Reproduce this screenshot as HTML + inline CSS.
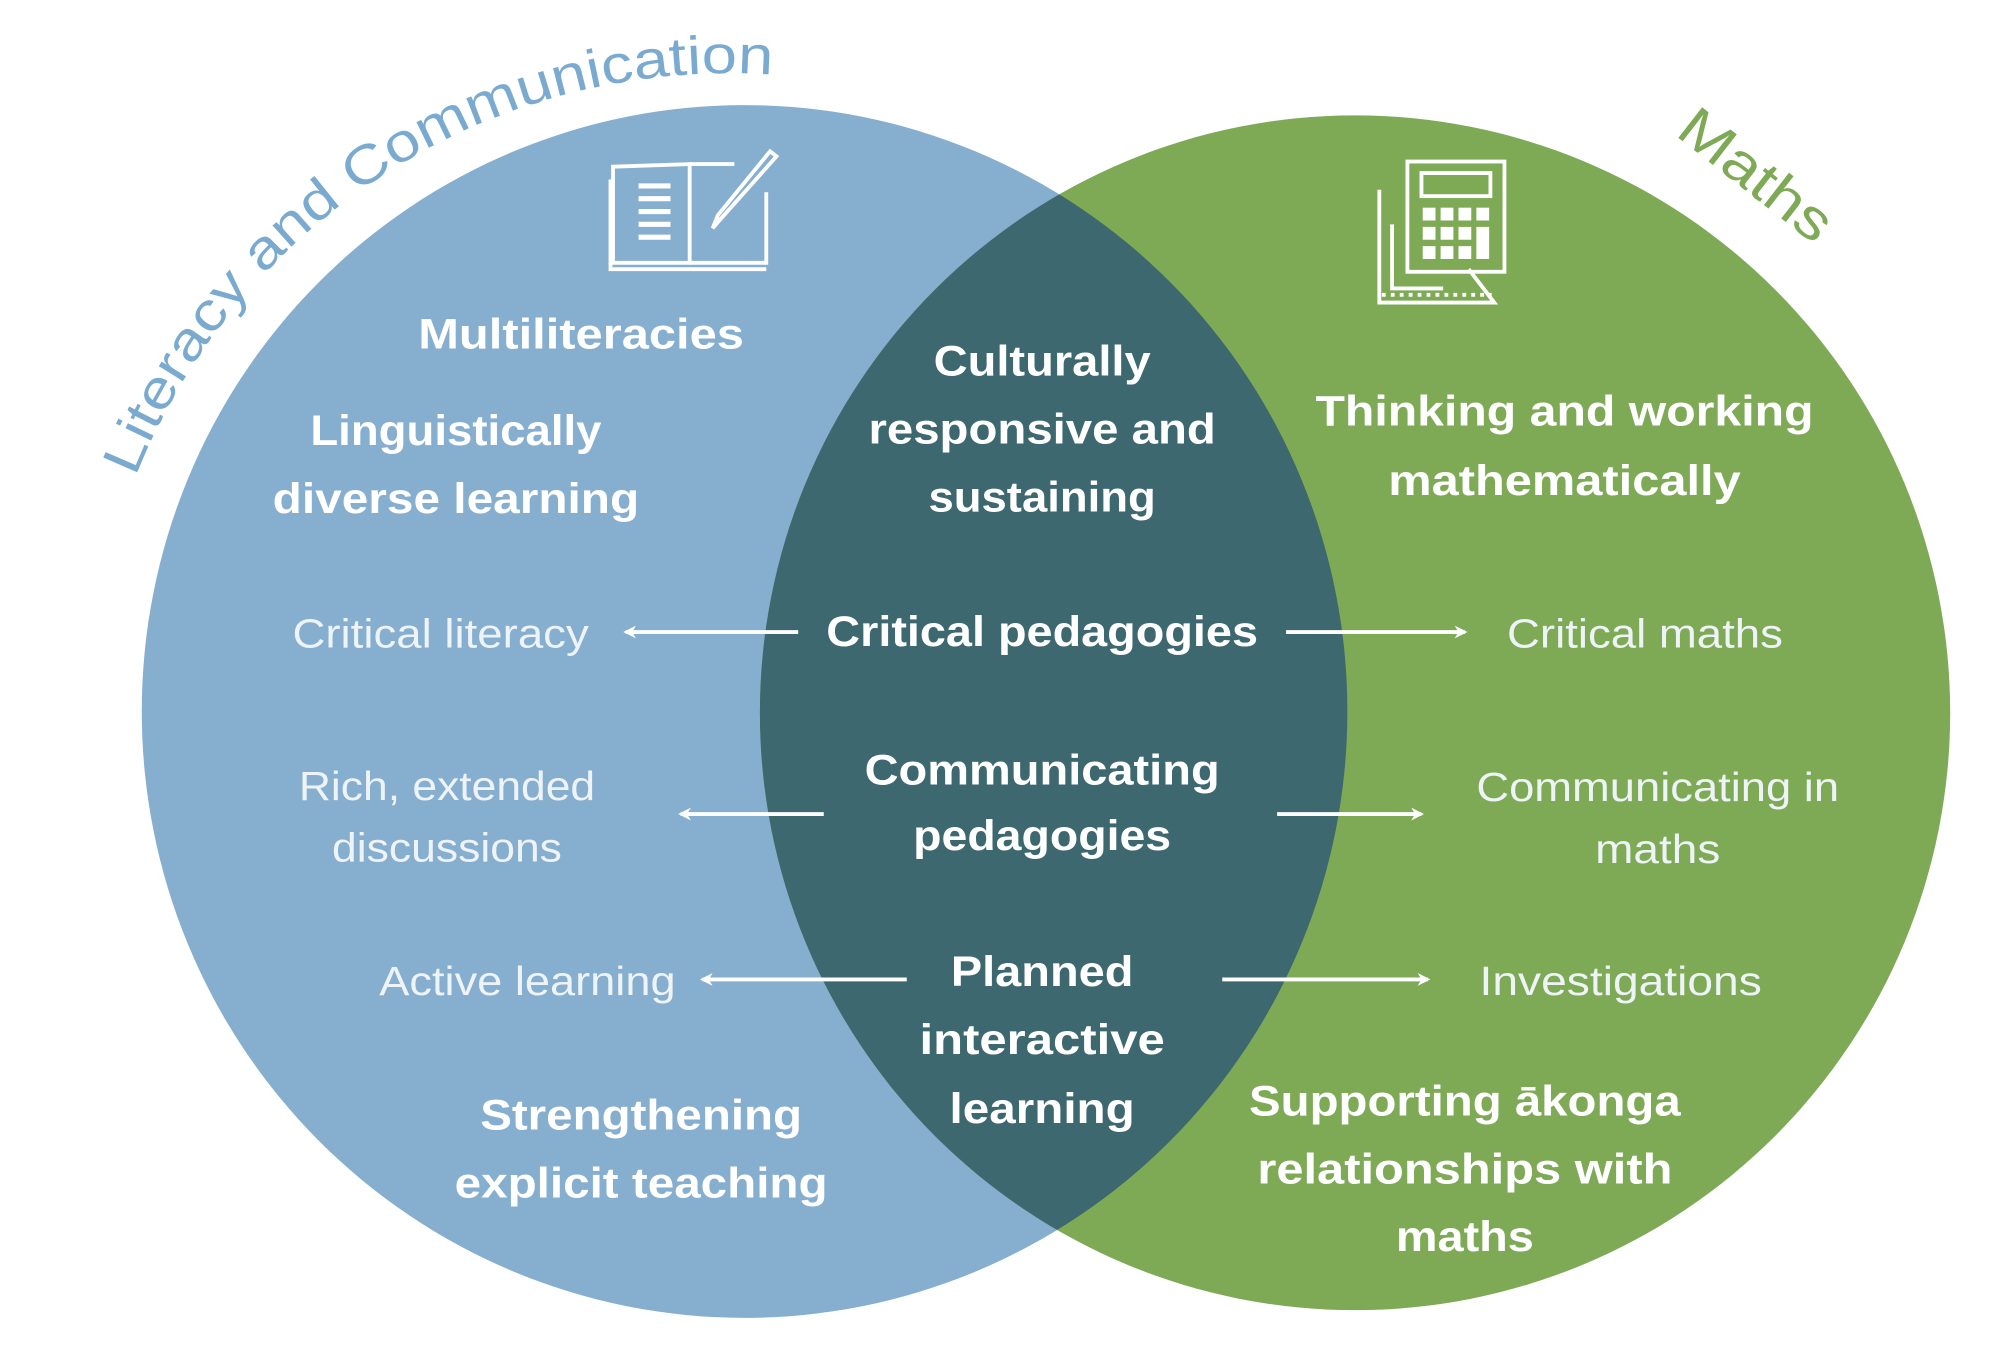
<!DOCTYPE html>
<html><head><meta charset="utf-8"><style>
html,body{margin:0;padding:0;background:#fff;}
svg{display:block;}
.b{font-family:"Liberation Sans",sans-serif;font-weight:bold;font-size:33px;fill:#fff;text-anchor:middle;}
.r{font-family:"Liberation Sans",sans-serif;font-size:32px;fill:#eef3f8;text-anchor:middle;}
</style></head><body>
<svg width="2000" height="1358" viewBox="0 0 1566 1059.3" preserveAspectRatio="none" xmlns="http://www.w3.org/2000/svg">
<defs>
<clipPath id="cb"><ellipse cx="583" cy="555" rx="472" ry="473"/></clipPath>
<path id="arc" d="M 106 372 A 500 500 0 0 1 640 62"/>
<marker id="ah" markerWidth="10" markerHeight="10" refX="8" refY="5" orient="auto" markerUnits="userSpaceOnUse"><path d="M0,0 L10,5 L0,10 L3,5 Z" fill="#fff"/></marker>
</defs>
<ellipse cx="583" cy="555" rx="472" ry="473" fill="#86aecf"/>
<ellipse cx="1061" cy="556" rx="466" ry="466" fill="#7eaa56"/>
<ellipse cx="1061" cy="556" rx="466" ry="466" fill="#3d6870" clip-path="url(#cb)"/>

<text font-family="Liberation Sans,sans-serif" font-size="42" fill="#7aaad0"><textPath href="#arc" textLength="630" lengthAdjust="spacingAndGlyphs">Literacy and Communication</textPath></text>
<text transform="translate(1366,148) rotate(38)" font-family="Liberation Sans,sans-serif" font-size="44" fill="#7eaa56" text-anchor="middle" textLength="140" lengthAdjust="spacingAndGlyphs">Maths</text>

<g fill="none" stroke="#fff" stroke-width="3">
<path d="M480 130 L540 128 L540 205 L480 205 Z"/>
<path d="M540 128 L575 128"/><path d="M600 150 L600 205 L540 205"/>
<path d="M478 140 L478 210 L600 210"/>
<path d="M500 145h25M500 155h25M500 165h25M500 175h25M500 185h25" stroke-width="4"/>
<path d="M608 122 L565 170 L558 178 L562 168 L603 118 Z"/>
</g>
<g fill="none" stroke="#fff" stroke-width="3">
<rect x="1102" y="126" width="76" height="86"/>
<rect x="1113" y="135" width="54" height="18"/>
<path d="M1080 148 L1080 236 L1170 236 L1150 210"/>
<path d="M1090 175 L1090 225 L1130 225"/>
<path d="M1082 230h86" stroke-dasharray="3 4"/>
</g>
<g fill="#fff">
<rect x="1114" y="162" width="10" height="10"/><rect x="1128" y="162" width="10" height="10"/><rect x="1142" y="162" width="10" height="10"/><rect x="1156" y="162" width="10" height="10"/>
<rect x="1114" y="177" width="10" height="10"/><rect x="1128" y="177" width="10" height="10"/><rect x="1142" y="177" width="10" height="10"/><rect x="1156" y="177" width="10" height="25"/>
<rect x="1114" y="192" width="10" height="10"/><rect x="1128" y="192" width="10" height="10"/><rect x="1142" y="192" width="10" height="10"/>
</g>

<g class="b">
<text x="455" y="272" textLength="255" lengthAdjust="spacingAndGlyphs">Multiliteracies</text>
<text x="357" y="347" textLength="228" lengthAdjust="spacingAndGlyphs">Linguistically</text>
<text x="357" y="400" textLength="287" lengthAdjust="spacingAndGlyphs">diverse learning</text>
<text x="816" y="293" textLength="170" lengthAdjust="spacingAndGlyphs">Culturally</text>
<text x="816" y="346" textLength="272" lengthAdjust="spacingAndGlyphs">responsive and</text>
<text x="816" y="399" textLength="178" lengthAdjust="spacingAndGlyphs">sustaining</text>
<text x="1225" y="332" textLength="390" lengthAdjust="spacingAndGlyphs">Thinking and working</text>
<text x="1225" y="386" textLength="276" lengthAdjust="spacingAndGlyphs">mathematically</text>
<text x="816" y="504" textLength="338" lengthAdjust="spacingAndGlyphs">Critical pedagogies</text>
<text x="816" y="612" textLength="278" lengthAdjust="spacingAndGlyphs">Communicating</text>
<text x="816" y="663" textLength="202" lengthAdjust="spacingAndGlyphs">pedagogies</text>
<text x="816" y="769" textLength="143" lengthAdjust="spacingAndGlyphs">Planned</text>
<text x="816" y="822" textLength="192" lengthAdjust="spacingAndGlyphs">interactive</text>
<text x="816" y="876" textLength="145" lengthAdjust="spacingAndGlyphs">learning</text>
<text x="502" y="881" textLength="252" lengthAdjust="spacingAndGlyphs">Strengthening</text>
<text x="502" y="934" textLength="292" lengthAdjust="spacingAndGlyphs">explicit teaching</text>
<text x="1147" y="870" textLength="338" lengthAdjust="spacingAndGlyphs">Supporting ākonga</text>
<text x="1147" y="923" textLength="325" lengthAdjust="spacingAndGlyphs">relationships with</text>
<text x="1147" y="976" textLength="108" lengthAdjust="spacingAndGlyphs">maths</text>
</g>
<g class="r">
<text x="345" y="505" textLength="232" lengthAdjust="spacingAndGlyphs">Critical literacy</text>
<text x="1288" y="505" textLength="216" lengthAdjust="spacingAndGlyphs">Critical maths</text>
<text x="350" y="624" textLength="232" lengthAdjust="spacingAndGlyphs">Rich, extended</text>
<text x="350" y="672" textLength="180" lengthAdjust="spacingAndGlyphs">discussions</text>
<text x="1298" y="625" textLength="284" lengthAdjust="spacingAndGlyphs">Communicating in</text>
<text x="1298" y="673" textLength="98" lengthAdjust="spacingAndGlyphs">maths</text>
<text x="413" y="776" textLength="232" lengthAdjust="spacingAndGlyphs">Active learning</text>
<text x="1269" y="776" textLength="221" lengthAdjust="spacingAndGlyphs">Investigations</text>
</g>
<g stroke="#fff" stroke-width="3" marker-end="url(#ah)">
<line x1="625" y1="493" x2="490" y2="493"/>
<line x1="1007" y1="493" x2="1147" y2="493"/>
<line x1="645" y1="635" x2="533" y2="635"/>
<line x1="1000" y1="635" x2="1113" y2="635"/>
<line x1="710" y1="764" x2="550" y2="764"/>
<line x1="957" y1="764" x2="1118" y2="764"/>
</g>
</svg>
</body></html>
